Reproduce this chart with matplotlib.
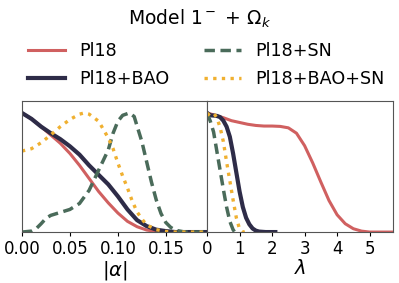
import matplotlib
matplotlib.use("Agg")
import matplotlib.pyplot as plt

# |alpha| marginals (each series read on its own x points)
a_pl18 = [0.00, 0.01, 0.02, 0.03, 0.04, 0.05, 0.06, 0.07, 0.08, 0.09,
          0.10, 0.11, 0.12, 0.13, 0.14, 0.15, 0.195]
pl18_a = [1.00, 0.95, 0.885, 0.815, 0.745, 0.66, 0.56, 0.45, 0.34, 0.245,
          0.16, 0.09, 0.045, 0.017, 0.005, 0.0, 0.0]
a_bao = [0.00, 0.01, 0.02, 0.03, 0.04, 0.05, 0.06, 0.07, 0.08, 0.09,
         0.10, 0.11, 0.12, 0.13, 0.14, 0.15, 0.16, 0.195]
bao_a = [1.00, 0.95, 0.885, 0.83, 0.78, 0.72, 0.65, 0.56, 0.48, 0.40,
         0.30, 0.19, 0.10, 0.05, 0.02, 0.008, 0.0, 0.0]
a_sn = [0.00, 0.01, 0.015, 0.02, 0.025, 0.03, 0.04, 0.05, 0.06, 0.07, 0.08,
        0.09, 0.095, 0.10, 0.105, 0.112, 0.117, 0.12, 0.125, 0.13, 0.135,
        0.14, 0.145, 0.15, 0.155, 0.16, 0.17, 0.195]
sn_a = [0.0, 0.008, 0.03, 0.07, 0.115, 0.14, 0.165, 0.19, 0.24, 0.35, 0.52,
        0.69, 0.83, 0.93, 0.98, 1.00, 0.97, 0.89, 0.76, 0.59, 0.42,
        0.27, 0.155, 0.08, 0.04, 0.015, 0.0, 0.0]
a_bao_sn = [0.00, 0.01, 0.02, 0.03, 0.04, 0.05, 0.06, 0.065, 0.07, 0.08,
            0.09, 0.095, 0.10, 0.105, 0.11, 0.115, 0.12, 0.125, 0.13, 0.14,
            0.15, 0.16, 0.195]
bao_sn_a = [0.68, 0.70, 0.75, 0.815, 0.885, 0.945, 0.99, 1.00, 0.99, 0.93,
            0.79, 0.70, 0.58, 0.47, 0.37, 0.26, 0.17, 0.11, 0.06, 0.02,
            0.005, 0.0, 0.0]

# lambda marginals
l_pl18 = [0.0, 0.25, 0.5, 0.75, 1.0, 1.25, 1.5, 1.75, 2.0, 2.25, 2.5, 2.75,
          3.0, 3.25, 3.5, 3.75, 4.0, 4.25, 4.5, 4.75, 5.0, 5.75]
pl18_l = [1.00, 0.98, 0.96, 0.935, 0.92, 0.905, 0.895, 0.89, 0.89, 0.887, 0.875, 0.83,
          0.725, 0.58, 0.42, 0.265, 0.145, 0.07, 0.028, 0.008, 0.0, 0.0]
l_bao = [0.0, 0.1, 0.2, 0.3, 0.4, 0.5, 0.6, 0.7, 0.8, 0.9, 1.0,
         1.1, 1.2, 1.3, 1.4, 1.5, 1.6, 1.8, 2.1]
bao_l = [1.00, 0.98, 0.978, 0.975, 0.965, 0.935, 0.885, 0.80, 0.66, 0.50, 0.34,
         0.21, 0.12, 0.065, 0.03, 0.012, 0.004, 0.0, 0.0]
l_sn = [0.0, 0.1, 0.2, 0.3, 0.4, 0.5, 0.6, 0.7, 0.8, 0.85]
sn_l = [1.00, 0.93, 0.84, 0.68, 0.52, 0.36, 0.21, 0.09, 0.02, 0.0]
l_bao_sn = [0.0, 0.1, 0.2, 0.3, 0.4, 0.5, 0.6, 0.7, 0.8, 0.9, 1.0, 1.1, 1.2]
bao_sn_l = [0.98, 1.00, 1.00, 0.96, 0.88, 0.76, 0.59, 0.43, 0.27, 0.12, 0.025, 0.0, 0.0]

labels = ["Pl18", "Pl18+BAO", "Pl18+SN", "Pl18+BAO+SN"]
colors = ["#d06060", "#2e2c48", "#4a6b5a", "#f0b030"]
styles = [dict(lw=2.2, ls="-"), dict(lw=3.0, ls="-"),
          dict(lw=2.5, ls=(0, (3, 1.6))), dict(lw=2.4, ls=(0, (1, 1.6)))]

fig = plt.figure(figsize=(3.99, 2.83), dpi=100)
ax1 = fig.add_axes([0.055, 0.180, 0.464, 0.463])
ax2 = fig.add_axes([0.519, 0.180, 0.466, 0.463])

left_data = [(a_pl18, pl18_a), (a_bao, bao_a), (a_sn, sn_a), (a_bao_sn, bao_sn_a)]
right_data = [(l_pl18, pl18_l), (l_bao, bao_l), (l_sn, sn_l), (l_bao_sn, bao_sn_l)]

handles = []
for i in range(4):
    h, = ax1.plot(*left_data[i], color=colors[i], label=labels[i], **styles[i])
    ax2.plot(*right_data[i], color=colors[i], **styles[i])
    handles.append(h)

for ax in (ax1, ax2):
    ax.set_ylim(0, 1.10)
    ax.set_yticks([])
    ax.tick_params(axis="x", labelsize=12, length=3, pad=2.5)
    for s in ax.spines.values():
        s.set_color("#555555")

ax1.set_xlim(0, 0.193)
ax1.set_xticks([0.00, 0.05, 0.10, 0.15])
ax1.set_xticklabels(["0.00", "0.05", "0.10", "0.15"])
ax1.set_xlabel(r"$|\alpha|$", fontsize=14, labelpad=1)

ax2.set_xlim(0, 5.72)
ax2.set_xticks([0, 1, 2, 3, 4, 5])
ax2.set_xlabel(r"$\lambda$", fontsize=14, labelpad=1)

fig.text(0.5, 0.935, r"Model $1^-$ + $\Omega_k$", ha="center", va="center", fontsize=13.5)
fig.legend(handles=handles, loc="upper center", bbox_to_anchor=(0.517, 0.875), ncol=2,
           frameon=False, fontsize=12.6, handlelength=2.1, handletextpad=0.8,
           columnspacing=2.0, labelspacing=0.55, borderaxespad=0)

fig.savefig("out.png", dpi=100)
